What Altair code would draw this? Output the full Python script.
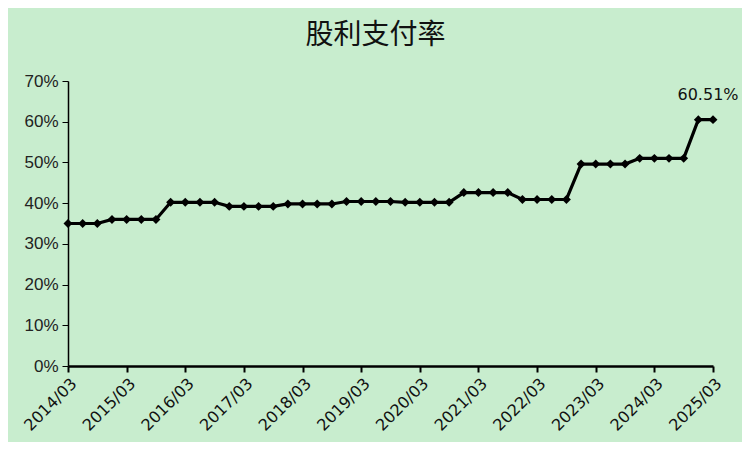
import altair as alt
import pandas as pd

years = list(range(2014, 2026))
quarters = []
for y in years:
    for m in ["03", "06", "09", "12"]:
        quarters.append(f"{y}/{m}")
quarters = quarters[: quarters.index("2025/03") + 1]

# payout ratio (%), per quarter
payout = [
    35.0, 35.0, 35.0,
    36.0, 36.0, 36.0, 36.0,
    40.2, 40.2, 40.2, 40.2,
    39.2, 39.2, 39.2, 39.2,
    39.8, 39.8, 39.8, 39.8,
    40.4, 40.4, 40.4, 40.4,
    40.2, 40.2, 40.2, 40.2,
    42.6, 42.6, 42.6, 42.6,
    40.9, 40.9, 40.9, 40.9,
    49.6, 49.6, 49.6, 49.6,
    51.0, 51.0, 51.0, 51.0,
    60.51, 60.51,
]
tick_labels = [f"{y}/03" for y in years]
label_text = ["" for _ in quarters]
label_text[-1] = "60.51%"

df = pd.DataFrame({"q": quarters, "v": [p / 100 for p in payout], "lab": label_text})

BG = "#C8EDCE"

x = alt.X("q:O", sort=quarters,
          scale=alt.Scale(type="point", padding=0),
          axis=alt.Axis(values=tick_labels, labelAngle=-45, labelAlign="right",
                        labelBaseline="top", title=None, domainColor="black",
                        tickColor="black", domainWidth=2.5, tickWidth=2, tickSize=6,
                        labelFont="DejaVu Sans", labelFontSize=16, labelColor="#111",
                        labelPadding=3))
y = alt.Y("v:Q", scale=alt.Scale(domain=[0, 0.7]),
          axis=alt.Axis(values=[i / 10 for i in range(8)], format=".0%", title=None,
                        grid=False, domainColor="black", tickColor="black",
                        domainWidth=1.5, tickSize=6, labelFont="Liberation Sans",
                        labelFontSize=17, labelColor="#222", labelPadding=4))

line = alt.Chart(df).mark_line(color="black", strokeWidth=3.2).encode(x=x, y=y)
pts = alt.Chart(df).mark_point(shape="diamond", filled=True, color="black", size=80, opacity=1).encode(x=x, y=y)
txt = alt.Chart(df).transform_filter("datum.lab != ''").mark_text(
    font="DejaVu Sans", fontSize=16, color="#111", dx=-5, dy=-25
).encode(x=x, y=y, text="lab:N")

chart = alt.layer(line, pts, txt).properties(
    width=645, height=285,
    title=alt.TitleParams("股利支付率", font="Noto Sans CJK SC", fontSize=28,
                          fontWeight="normal", color="#111", dx=-15, offset=22),
    background=BG,
    padding={"left": 60, "top": 73, "right": 29, "bottom": 76},
    autosize=alt.AutoSizeParams(type="none"),
).configure_view(stroke=None)

chart.save("out.html", embed_options={"renderer": "svg", "actions": False})
